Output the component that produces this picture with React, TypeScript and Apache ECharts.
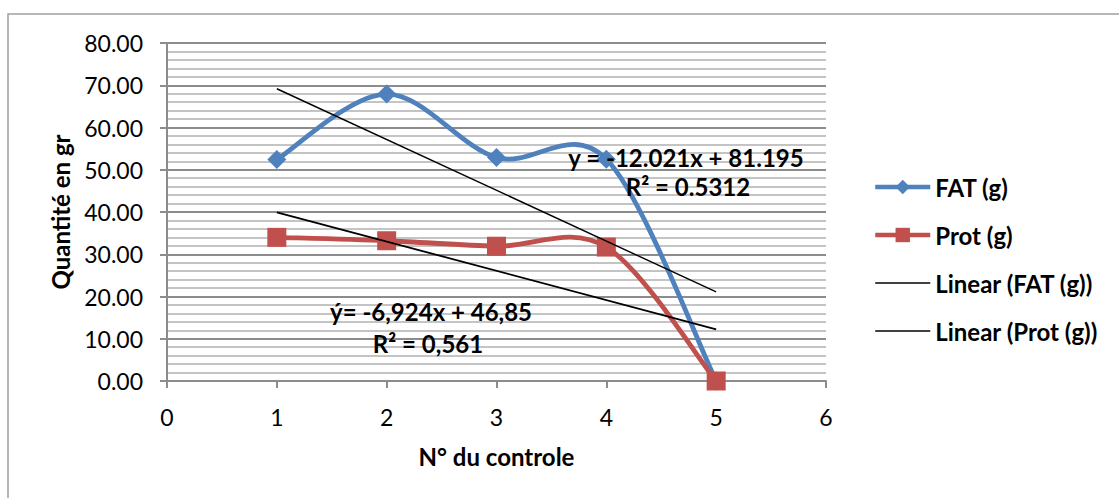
import React, { useEffect, useRef } from "react";
import * as echarts from "echarts";

const xValues = [1, 2, 3, 4, 5];
const fatValues = [52.4, 67.9, 52.9, 52.5, 0];
const protValues = [34.0, 33.2, 31.9, 31.7, 0];
const trendX = [1, 5];
const fatTrend = [69.17, 21.09];
const protTrend = [39.93, 12.23];
const seriesNames = ["FAT (g)", "Prot (g)", "Linear (FAT (g))", "Linear (Prot (g))"];
const fatEquation = ["y = -12.021x + 81.195", "R² = 0.5312"];
const protEquation = ["ý= -6,924x + 46,85", "R² = 0,561"];

const FONT = "Lato, 'Open Sans', sans-serif";
const BLUE = "#4F81BD";
const RED = "#C0504D";

// Excel-like smoothed curve (Catmull-Rom style Bezier) drawn through the axis scales
function smoothRenderer(xs: number[], ys: number[], color: string, width: number) {
  return (params: any, api: any) => {
    const i = params.dataIndex;
    if (i === 0) return { type: "group", children: [] };
    const pts = xs.map((x, k) => api.coord([x, ys[k]]));
    const p0 = pts[i - 1];
    const p1 = pts[i];
    const pm = i - 2 >= 0 ? pts[i - 2] : p0;
    const pn = i + 1 < pts.length ? pts[i + 1] : p1;
    const cpx1 = p0[0] + (p1[0] - pm[0]) / 6;
    const cpy1 = p0[1] + (p1[1] - pm[1]) / 6;
    const cpx2 = p1[0] - (pn[0] - p0[0]) / 6;
    const cpy2 = p1[1] - (pn[1] - p0[1]) / 6;
    return {
      type: "bezierCurve",
      shape: { x1: p0[0], y1: p0[1], x2: p1[0], y2: p1[1], cpx1, cpy1, cpx2, cpy2 },
      style: { stroke: color, lineWidth: width, fill: null, lineCap: "round" },
    };
  };
}

export default function App() {
  const ref = useRef<HTMLDivElement>(null);
  useEffect(() => {
    if (!ref.current) return;
    const chart = echarts.init(ref.current, null, { renderer: "svg" });
    const pair = (xs: number[], ys: number[]) => xs.map((x, i) => [x, ys[i]]);
    const eqFont = `bold 24px ${FONT}`;
    const boldText = { fontFamily: FONT, fontWeight: "bold", fontSize: 24, color: "#000" };
    chart.setOption({
      animation: false,
      textStyle: { fontFamily: FONT },
      grid: { left: 167, right: 293, top: 43, bottom: 117, containLabel: false },
      xAxis: {
        type: "value",
        min: 0,
        max: 6,
        interval: 1,
        name: "N° du controle",
        nameLocation: "middle",
        nameGap: 63,
        nameTextStyle: boldText,
        axisLine: { show: true, lineStyle: { color: "#8c8c8c", width: 2 } },
        axisTick: { show: true, length: 7, lineStyle: { color: "#8c8c8c", width: 2 } },
        axisLabel: { fontFamily: FONT, fontSize: 23, color: "#000", margin: 24 },
        splitLine: { show: false },
      },
      yAxis: {
        type: "value",
        min: 0,
        max: 80,
        interval: 10,
        name: "Quantité en gr",
        nameLocation: "middle",
        nameGap: 95,
        nameTextStyle: boldText,
        axisLine: { show: true, lineStyle: { color: "#8c8c8c", width: 2 } },
        axisTick: { show: true, length: 7, lineStyle: { color: "#8c8c8c", width: 2 } },
        axisLabel: {
          fontFamily: FONT,
          fontSize: 23,
          color: "#000",
          margin: 24,
          formatter: (v: number) => v.toFixed(2),
        },
        splitLine: { show: true, lineStyle: { color: "#8c8c8c", width: 2 } },
        minorTick: { show: false, splitNumber: 5 },
        minorSplitLine: { show: true, lineStyle: { color: "#c4c4c4", width: 1.8 } },
      },
      legend: {
        orient: "vertical",
        left: 873,
        top: 175,
        padding: 0,
        itemWidth: 55,
        itemHeight: 18,
        itemGap: 24,
        textStyle: { ...boldText, lineHeight: 18 },
        data: [
          { name: seriesNames[0], lineStyle: { opacity: 1, width: 4.5, color: BLUE } },
          { name: seriesNames[1], lineStyle: { opacity: 1, width: 4.5, color: RED } },
          { name: seriesNames[2], itemStyle: { opacity: 0 }, lineStyle: { width: 1.6 } },
          { name: seriesNames[3], itemStyle: { opacity: 0 }, lineStyle: { width: 1.6 } },
        ],
      },
      series: [
        {
          name: "FAT curve",
          type: "custom",
          data: pair(xValues, fatValues),
          encode: { x: 0, y: 1 },
          renderItem: smoothRenderer(xValues, fatValues, BLUE, 4.8),
          z: 3,
          silent: true,
        },
        {
          name: "Prot curve",
          type: "custom",
          data: pair(xValues, protValues),
          encode: { x: 0, y: 1 },
          renderItem: smoothRenderer(xValues, protValues, RED, 4.8),
          z: 3,
          silent: true,
        },
        {
          name: seriesNames[0],
          type: "line",
          data: pair(xValues, fatValues),
          symbol: "diamond",
          symbolSize: 19,
          lineStyle: { color: BLUE, width: 4.5, opacity: 0 },
          itemStyle: { color: BLUE },
          z: 4,
        },
        {
          name: seriesNames[1],
          type: "line",
          data: pair(xValues, protValues),
          symbol: "rect",
          symbolSize: 19,
          lineStyle: { color: RED, width: 4.5, opacity: 0 },
          itemStyle: { color: RED },
          z: 5,
        },
        {
          name: seriesNames[2],
          type: "line",
          data: pair(trendX, fatTrend),
          symbol: "none",
          lineStyle: { color: "#000", width: 1.4 },
          itemStyle: { color: "#000" },
          z: 6,
        },
        {
          name: seriesNames[3],
          type: "line",
          data: pair(trendX, protTrend),
          symbol: "none",
          lineStyle: { color: "#000", width: 1.8 },
          itemStyle: { color: "#000" },
          z: 6,
        },
      ],
      graphic: [
        {
          type: "rect",
          shape: { x: 8, y: 14, width: 2000, height: 2000 },
          style: { fill: "none", stroke: "#a0a0a0", lineWidth: 1.5 },
          silent: true,
          z: -10,
        },
        {
          type: "text",
          x: 686,
          y: 157,
          z: 20,
          style: { text: fatEquation[0], font: eqFont, fill: "#000", align: "center", verticalAlign: "middle" },
        },
        {
          type: "text",
          x: 688,
          y: 186,
          z: 20,
          style: { text: fatEquation[1], font: eqFont, fill: "#000", align: "center", verticalAlign: "middle" },
        },
        {
          type: "text",
          x: 431,
          y: 311,
          z: 20,
          style: { text: protEquation[0], font: eqFont, fill: "#000", align: "center", verticalAlign: "middle" },
        },
        {
          type: "text",
          x: 428,
          y: 343,
          z: 20,
          style: { text: protEquation[1], font: eqFont, fill: "#000", align: "center", verticalAlign: "middle" },
        },
      ],
    });
    return () => chart.dispose();
  }, []);
  return <div ref={ref} style={{ position: "absolute", left: 0, top: 0, width: 1119, height: 498 }} />;
}
